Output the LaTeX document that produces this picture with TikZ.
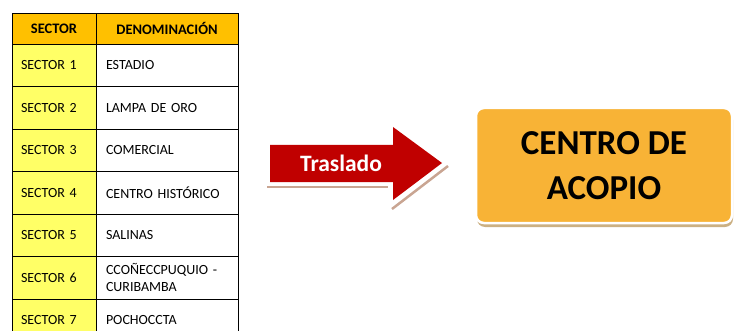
\documentclass[tikz,border=0pt]{standalone}
\usepackage{fontspec}
\setmainfont{Carlito}
\newfontfamily\tablefont[WordSpace=0.5]{Carlito}
\usetikzlibrary{positioning, shadows}
\definecolor{headorange}{HTML}{FFC000}
\definecolor{sectoryellow}{HTML}{FFFF66}
\definecolor{arrowred}{HTML}{C00000}
\definecolor{arrowshadow}{HTML}{C9A592}
\definecolor{boxorange}{HTML}{F8B336}
\definecolor{boxshadow}{HTML}{CBB083}

\begin{document}
\begin{tikzpicture}[x=1pt, y=-1pt,
  cell/.style={draw, line width=0.8pt, inner ysep=0pt, outer sep=0pt, align=left,
    font=\tablefont\fontsize{14}{17}\selectfont},
  sectorcell/.style={cell, fill=sectoryellow, minimum height=42.5pt,
    text width=66pt, inner xsep=9pt},
  namecell/.style={cell, minimum height=42.5pt, text width=122pt, inner xsep=10pt},
  headcell/.style={cell, fill=headorange, minimum height=31pt, align=center,
    font=\tablefont\fontsize{14.5}{16}\selectfont\bfseries},
  centro/.style={rounded corners=8pt, draw=white, line width=2.5pt, fill=boxorange,
    minimum width=256pt, minimum height=115pt, align=center,
    font=\fontsize{35}{45}\selectfont\bfseries,
    drop shadow={shadow xshift=1pt, shadow yshift=-4pt, fill=boxshadow, opacity=1}}]
\useasboundingbox (0,0) rectangle (735,331);

\node[headcell, text width=66pt, inner xsep=9pt, anchor=north west] (hsector) at (12,13) {SECTOR};
\node[headcell, text width=122pt, inner xsep=10pt, right=0pt of hsector] (hdenom) {DENOMINACIÓN};

\node[sectorcell, below=0pt of hsector] (s1) {SECTOR 1};
\node[namecell, right=0pt of s1] (d1) {ESTADIO};
\node[sectorcell, below=0pt of s1] (s2) {SECTOR 2};
\node[namecell, right=0pt of s2] (d2) {LAMPA DE ORO};
\node[sectorcell, below=0pt of s2] (s3) {SECTOR 3};
\node[namecell, right=0pt of s3] (d3) {COMERCIAL};
\node[sectorcell, below=0pt of s3] (s4) {SECTOR 4};
\node[namecell, right=0pt of s4] (d4) {CENTRO HISTÓRICO};
\node[sectorcell, below=0pt of s4] (s5) {SECTOR 5};
\node[namecell, right=0pt of s5] (d5) {SALINAS};
\node[sectorcell, below=0pt of s5] (s6) {SECTOR 6};
\node[namecell, right=0pt of s6] (d6) {CCOÑECCPUQUIO -\\CURIBAMBA};
\node[sectorcell, below=0pt of s6] (s7) {SECTOR 7};
\node[namecell, right=0pt of s7] (d7) {POCHOCCTA};

\draw[arrowshadow, line width=2.5pt] (267,187) -- (388,187);
\draw[arrowshadow, line width=2.5pt] (392,209) -- (448,166);
\fill[arrowred] (270,145) -- (393,145) -- (393,127) -- (442,163) -- (393,200) -- (393,182) -- (270,182) -- cycle;
\node[text=white, font=\fontsize{23.5}{26}\selectfont\bfseries] (traslado) at (341,163.5) {Traslado};

\node[centro] (acopio) at (604,165.5) {CENTRO DE\\ACOPIO};
\end{tikzpicture}
\end{document}
